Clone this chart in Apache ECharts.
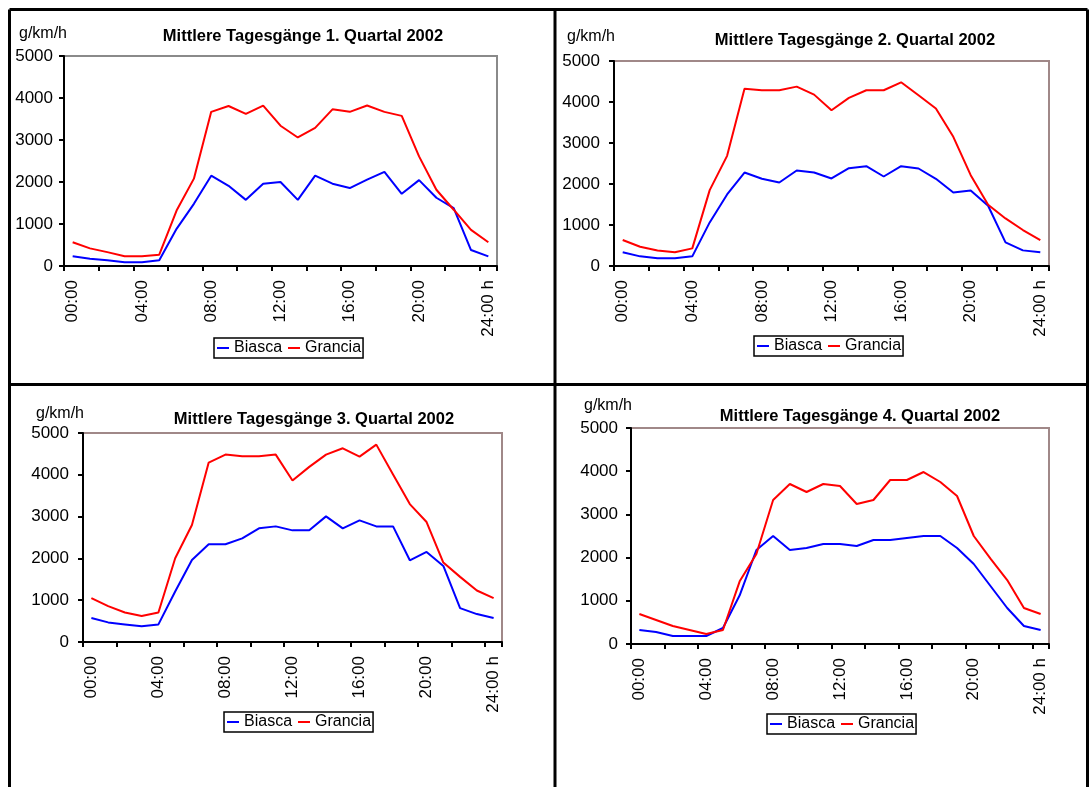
<!DOCTYPE html>
<html>
<head>
<meta charset="utf-8">
<script src="https://cdn.jsdelivr.net/npm/echarts@6/dist/echarts.min.js"></script>
<style>
html,body{margin:0;padding:0;background:#fff;}
#chart{width:1090px;height:787px;}
</style>
</head>
<body>
<div id="chart"></div>
<script>
// Categories: hours of the day
const hours = ["00:00","01:00","02:00","03:00","04:00","05:00","06:00","07:00","08:00","09:00","10:00","11:00",
  "12:00","13:00","14:00","15:00","16:00","17:00","18:00","19:00","20:00","21:00","22:00","23:00","24:00 h"];

const titles = ["Mittlere Tagesgänge 1. Quartal 2002","Mittlere Tagesgänge 2. Quartal 2002",
  "Mittlere Tagesgänge 3. Quartal 2002","Mittlere Tagesgänge 4. Quartal 2002"];
const unitLabel = "g/km/h";
const seriesNames = ["Biasca","Grancia"];

// Quarter 1
const q1Biasca  = [230,175,135,90,90,135,885,1480,2150,1910,1575,1960,2000,1575,2150,1960,1855,2055,2240,1720,2045,1625,1380,380,230];
const q1Grancia = [565,420,330,230,230,270,1320,2080,3670,3810,3620,3820,3340,3060,3290,3730,3670,3820,3670,3575,2610,1815,1340,860,565];
// Quarter 2
const q2Biasca  = [333,235,187,187,235,1063,1745,2280,2127,2037,2330,2280,2135,2386,2435,2183,2435,2378,2127,1794,1843,1470,576,381,333];
const q2Grancia = [633,470,380,333,430,1850,2687,4326,4286,4286,4375,4180,3800,4100,4286,4286,4480,4164,3840,3150,2216,1494,1160,877,633];
// Quarter 3
const q3Biasca  = [572,469,421,374,421,1208,1963,2337,2337,2480,2719,2766,2671,2671,3005,2719,2909,2766,2766,1955,2154,1820,811,668,572];
const q3Grancia = [1050,858,707,620,707,2003,2798,4293,4483,4444,4444,4483,3863,4189,4483,4634,4436,4722,4006,3299,2870,1900,1558,1232,1049];
// Quarter 4
const q4Biasca  = [324,278,185,185,185,370,1127,2176,2500,2176,2222,2315,2315,2269,2407,2407,2454,2500,2500,2222,1852,1343,833,417,324];
const q4Grancia = [694,556,417,324,231,324,1451,2083,3333,3704,3519,3704,3657,3241,3333,3796,3796,3981,3750,3426,2500,1975,1481,833,694];

const yTicks = {min:0, max:5000, interval:1000};

const quarterData = [[q1Biasca,q1Grancia],[q2Biasca,q2Grancia],[q3Biasca,q3Grancia],[q4Biasca,q4Grancia]];

// Layout (pixels)
const grids = [
  {left:64, top:56, width:433, height:210},
  {left:614, top:61, width:435, height:205},
  {left:83, top:433, width:419, height:209},
  {left:631, top:428, width:418, height:216}
];
const borderColors = ["#8a8a8a","#a08888","#a08888","#a08888"];
const titlePos = [[303,36],[855,40],[314,419],[860,416]];
const unitPos = [[19,34],[567,37],[36,414],[584,406]];
const legendPos = [[214,338],[754,336],[224,712],[767,714]];
const yLabelMargin = [11,14,14,13];

const FONT = "Liberation Sans, Arial, sans-serif";
const colors = ["#0000ff","#ff0000"];

const option = {
  animation:false,
  backgroundColor:"#fff",
  grid: grids.map((g,i)=>({left:g.left, top:g.top, width:g.width, height:g.height, show:true,
    borderColor:borderColors[i], borderWidth:2, backgroundColor:"transparent", containLabel:false})),
  xAxis: grids.map((g,i)=>({
    type:"category", gridIndex:i, data:hours, boundaryGap:true,
    axisLine:{show:true, lineStyle:{color:"#000", width:2}},
    axisTick:{show:true, interval:1, length:5, lineStyle:{color:"#000", width:2}},
    axisLabel:{interval:3, rotate:90, margin:14, color:"#000", fontSize:17, fontFamily:FONT},
    splitLine:{show:false}
  })),
  yAxis: grids.map((g,i)=>({
    type:"value", gridIndex:i, min:yTicks.min, max:yTicks.max, interval:yTicks.interval,
    axisLine:{show:true, lineStyle:{color:"#000", width:2}},
    axisTick:{show:true, length:5, lineStyle:{color:"#000", width:2}},
    axisLabel:{margin:yLabelMargin[i], color:"#000", fontSize:17, fontFamily:FONT, formatter:(v)=>String(v)},
    splitLine:{show:false}
  })),
  legend: legendPos.map(p=>({
    left:p[0], top:p[1], orient:"horizontal",
    data:seriesNames, icon:"rect", itemWidth:12, itemHeight:2, itemGap:6,
    borderColor:"#000", borderWidth:1.5, padding:[1,2,1,3],
    textStyle:{fontSize:16, fontFamily:FONT, color:"#000", lineHeight:18},
    selectedMode:false
  })),
  series: [],
  graphic: []
};

quarterData.forEach((pair,i)=>{
  pair.forEach((arr,k)=>{
    option.series.push({
      type:"line", name:seriesNames[k], xAxisIndex:i, yAxisIndex:i, data:arr,
      symbol:"none", lineStyle:{color:colors[k], width:2}, itemStyle:{color:colors[k]}
    });
  });
  option.graphic.push({type:"text", x:titlePos[i][0], y:titlePos[i][1],
    style:{text:titles[i], font:"bold 16.5px " + FONT, fill:"#000", textAlign:"center", textVerticalAlign:"middle"}});
  option.graphic.push({type:"text", x:unitPos[i][0], y:unitPos[i][1],
    style:{text:unitLabel, font:"16px " + FONT, fill:"#000", textAlign:"left", textVerticalAlign:"middle"}});
});

// Outer frame lines
const frame = [
  [9.5,9.5,1087.5,9.5],
  [9.5,9.5,9.5,787],
  [1087.5,9.5,1087.5,787],
  [555,9.5,555,787],
  [9.5,384.5,1087.5,384.5]
];
frame.forEach(f=>{
  option.graphic.push({type:"line", shape:{x1:f[0],y1:f[1],x2:f[2],y2:f[3]}, style:{stroke:"#000", lineWidth:3}, z:100});
});

const chart = echarts.init(document.getElementById("chart"), null, {renderer:"canvas"});
chart.setOption(option);
</script>
</body>
</html>
